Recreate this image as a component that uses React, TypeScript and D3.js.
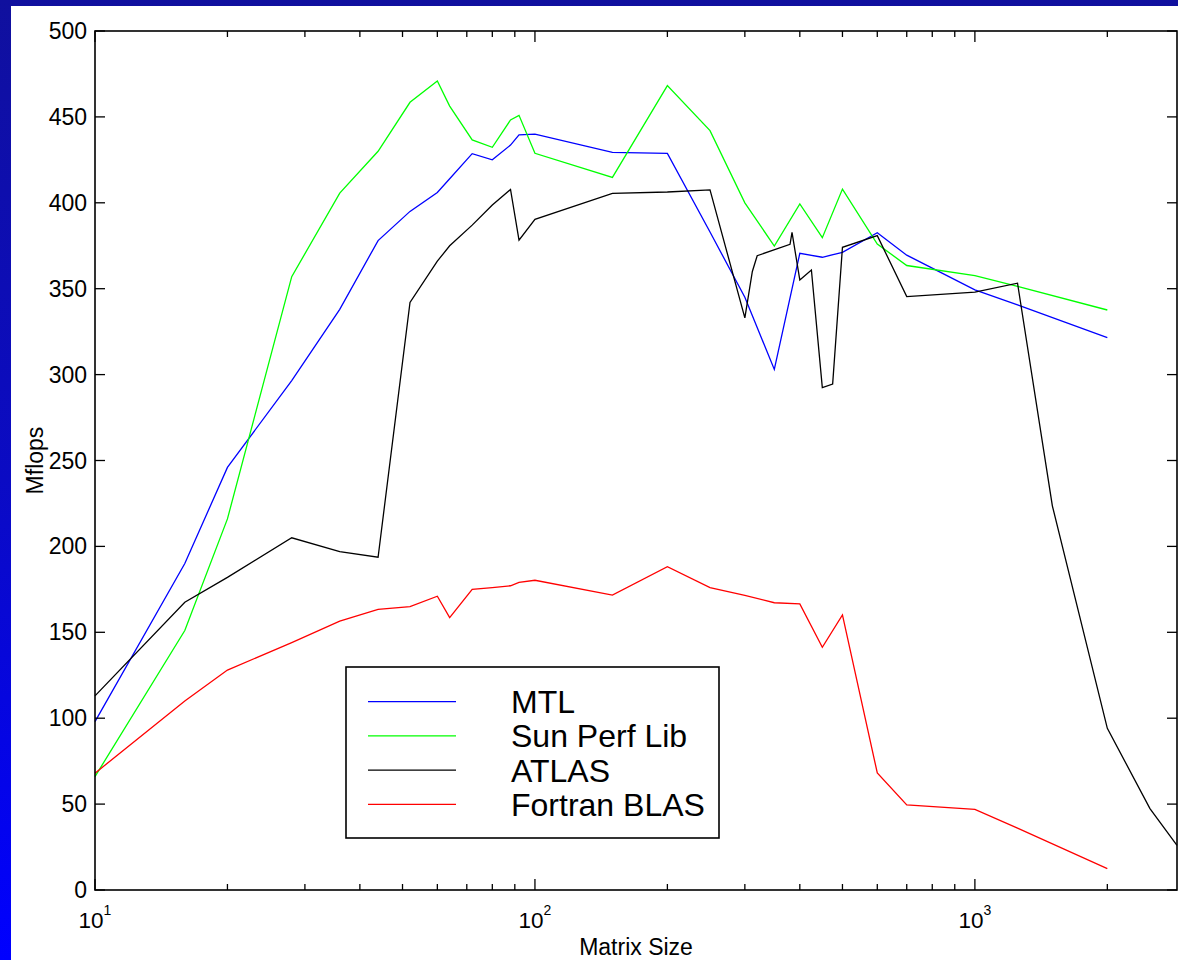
import React from "react";
import * as d3 from "d3";

const sizes = [10, 16, 20, 28, 36, 44, 52, 60, 64, 72, 80, 88, 92, 100, 150, 200, 250, 300, 350, 400, 450, 500, 600, 700, 1000, 1250, 2000];
const mtl = [98, 190, 246, 296.5, 338, 378, 395, 406, 414, 428.6, 425, 433.6, 439.6, 440, 429.4, 428.8, 383, 345, 303, 370.6, 368.3, 371.2, 382.6, 369.5, 349.3, 340.6, 321.5];
const sunPerf = [66, 151, 216, 357, 405.6, 430, 458.5, 470.9, 456.3, 436.6, 432.3, 448.2, 450.9, 428.8, 414.8, 468.2, 442, 400, 374.8, 399.3, 379.7, 408, 376, 363.5, 357.6, 351.3, 337.6];
const fortran = [68, 110, 128, 144, 156.5, 163.4, 165, 171, 158.5, 175, 176, 177.1, 179.1, 180.3, 171.7, 188.2, 176, 171.5, 167.2, 166.5, 141.3, 160.1, 68.1, 49.5, 46.9, 36, 12.4];

const atlasSizes = [10, 16, 20, 28, 36, 44, 52, 60, 64, 72, 80, 88, 92, 100, 150, 200, 250, 300, 312, 320, 380, 384, 400, 425, 450, 475, 500, 600, 700, 1000, 1250, 1500, 2000, 2500, 2880];
const atlas = [113, 167.5, 182, 205, 197, 193.7, 342, 366, 375, 387, 398.7, 407.8, 378.3, 390.4, 405.5, 406.3, 407.5, 333, 360, 369.2, 375.8, 382.8, 355, 360.9, 292.4, 294.5, 374.1, 380.9, 345.4, 348, 353.2, 223.6, 94.1, 47.4, 26];

const yTicks = [0, 50, 100, 150, 200, 250, 300, 350, 400, 450, 500];
const xMajor = [10, 100, 1000];
const xExponents = ["1", "2", "3"];

const legendNames = ["MTL", "Sun Perf Lib", "ATLAS", "Fortran BLAS"];
const legendColors = ["#0000ff", "#00ff00", "#000000", "#ff0000"];

const W = 1178;
const H = 960;
const L = 95, R = 1177, T = 31, B = 890;
const FONT = "'Liberation Sans', Arial, Helvetica, sans-serif";

export default function App() {
  const x = d3.scaleLog().domain([10, 2880]).range([L, R]);
  const y = d3.scaleLinear().domain([0, 500]).range([B, T]);
  const line = d3.line<[number, number]>().x(d => x(d[0])).y(d => y(d[1]));

  const series = [
    { xs: sizes, ys: mtl, color: legendColors[0] },
    { xs: sizes, ys: sunPerf, color: legendColors[1] },
    { xs: atlasSizes, ys: atlas, color: legendColors[2] },
    { xs: sizes, ys: fortran, color: legendColors[3] },
  ];

  const xTicks = x.ticks();

  return (
    <svg width={W} height={H} style={{ position: "absolute", left: 0, top: 0, display: "block" }} fontFamily={FONT}>
      <defs>
        <linearGradient id="bg" x1="0" y1="0" x2="0" y2="1">
          <stop offset="0" stopColor="#10109e" />
          <stop offset="0.5" stopColor="#0b0bc4" />
          <stop offset="1" stopColor="#0000ff" />
        </linearGradient>
      </defs>
      <rect x={0} y={0} width={W} height={H} fill="url(#bg)" />
      <rect x={11} y={6} width={W - 11} height={H - 6} fill="#ffffff" />

      {series.map((s, i) => (
        <path
          key={i}
          d={line(s.xs.map((v, j) => [v, s.ys[j]] as [number, number])) || ""}
          fill="none"
          stroke={s.color}
          strokeWidth={1.3}
          strokeLinejoin="miter"
        />
      ))}

      <rect x={L} y={T} width={R - L} height={B - T} fill="none" stroke="#000" strokeWidth={1.6} />

      {yTicks.map(t => (
        <g key={"y" + t}>
          <line x1={L} x2={L + 10} y1={y(t)} y2={y(t)} stroke="#000" strokeWidth={1.3} />
          <line x1={R} x2={R - 10} y1={y(t)} y2={y(t)} stroke="#000" strokeWidth={1.3} />
          <text x={87} y={y(t) + 8} textAnchor="end" fontSize={23} fill="#000">{t}</text>
        </g>
      ))}

      {xTicks.map(t => {
        const major = xMajor.includes(t);
        const len = major ? 11 : 6;
        return (
          <g key={"x" + t}>
            <line x1={x(t)} x2={x(t)} y1={B} y2={B - len} stroke="#000" strokeWidth={1.3} />
            <line x1={x(t)} x2={x(t)} y1={T} y2={T + len} stroke="#000" strokeWidth={1.3} />
          </g>
        );
      })}
      {xMajor.map((t, i) => (
        <text key={"xl" + t} x={x(t)} y={928} textAnchor="middle" fontSize={22.5} fill="#000">
          <tspan>10</tspan>
          <tspan dy={-13} fontSize={14}>{xExponents[i]}</tspan>
        </text>
      ))}

      <text x={(L + R) / 2} y={955} textAnchor="middle" fontSize={23} fill="#000">Matrix Size</text>
      <text transform={`translate(43, ${(T + B) / 2}) rotate(-90)`} textAnchor="middle" fontSize={23} fill="#000">Mflops</text>

      <rect x={346} y={667} width={373} height={171} fill="#fff" stroke="#000" strokeWidth={1.6} />
      {legendNames.map((n, i) => {
        const ly = 701.7 + i * 34.2;
        return (
          <g key={n}>
            <line x1={368} x2={456} y1={ly} y2={ly} stroke={legendColors[i]} strokeWidth={1.3} />
            <text x={511} y={ly + 11.5} fontSize={32} fill="#000">{n}</text>
          </g>
        );
      })}
    </svg>
  );
}
